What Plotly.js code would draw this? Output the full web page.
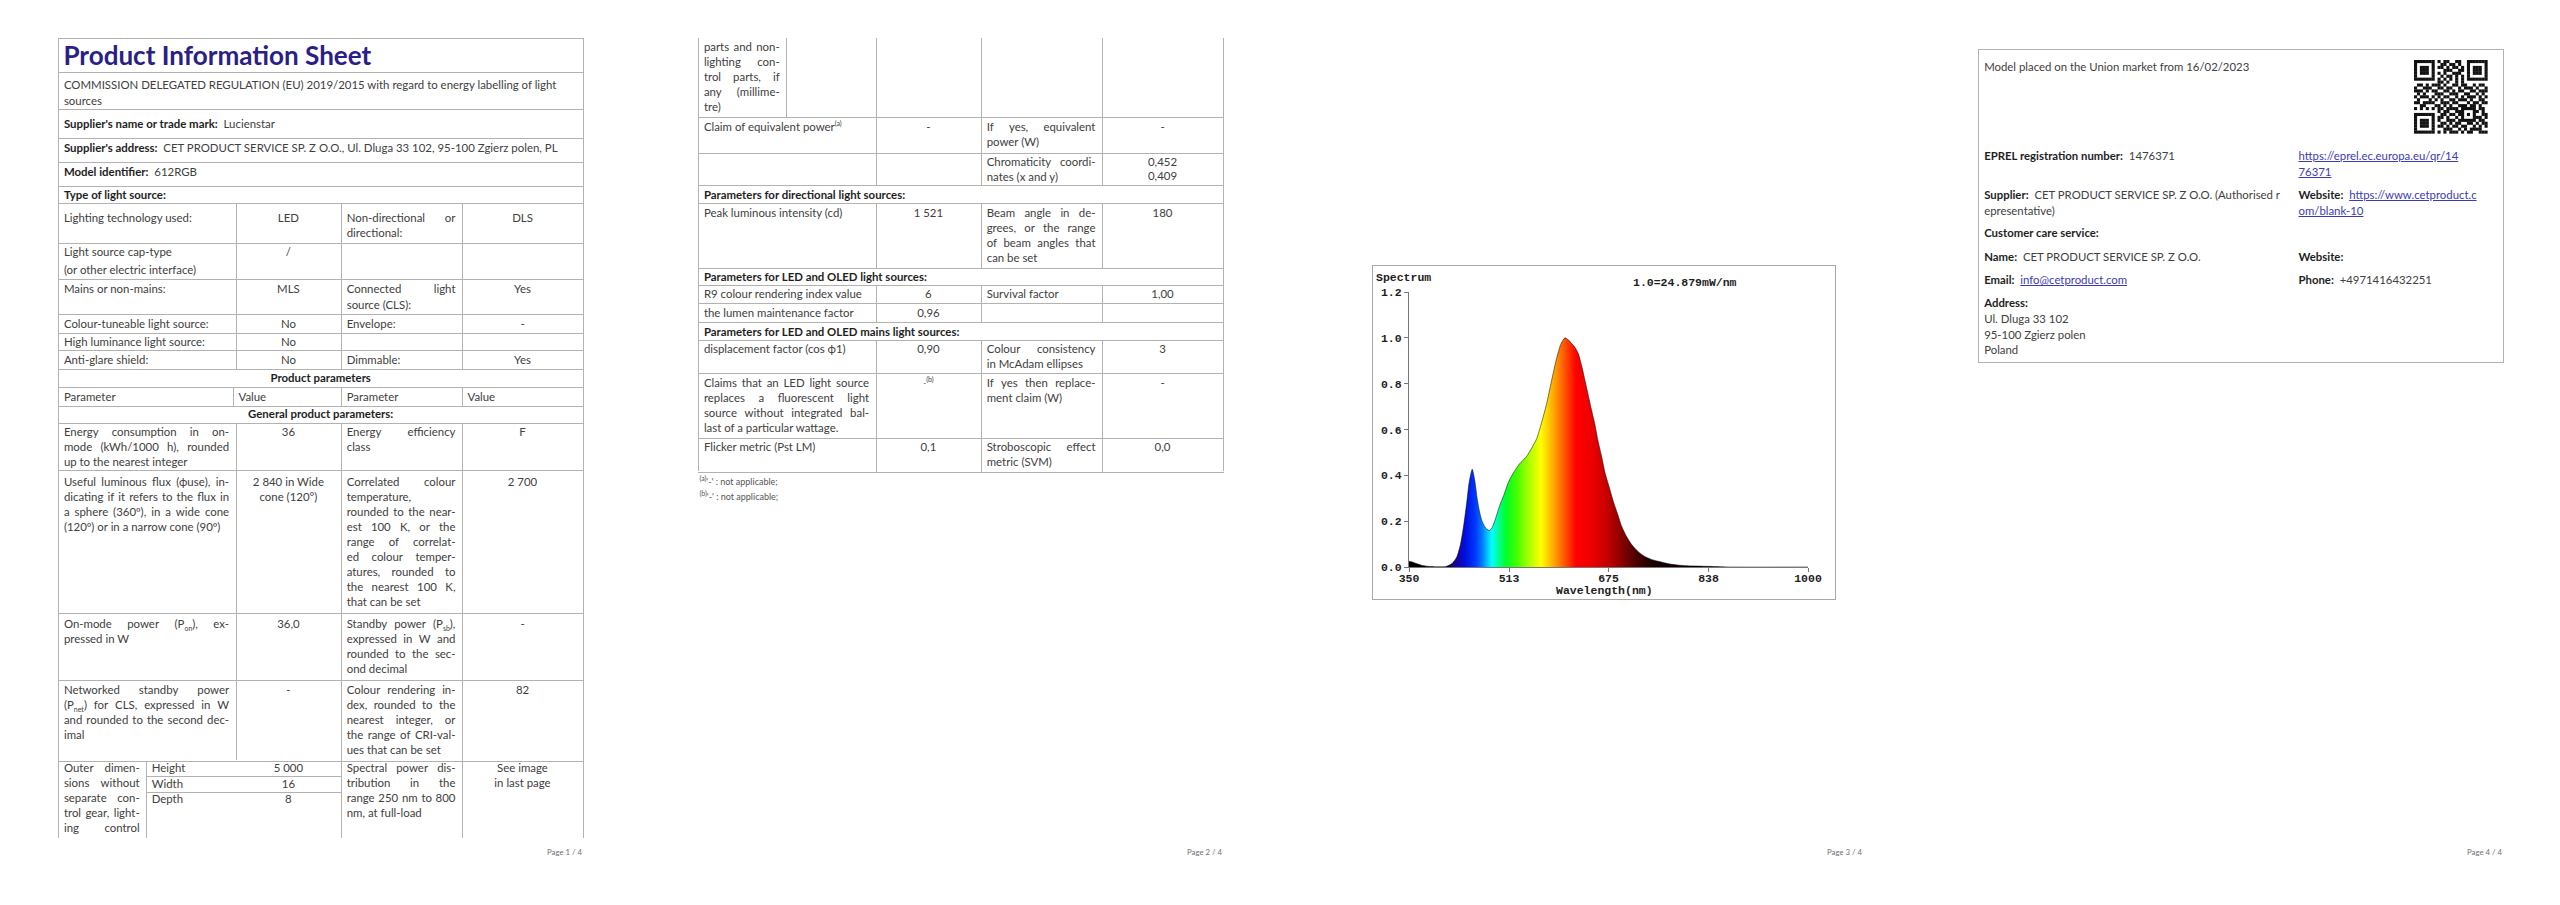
<!DOCTYPE html>
<html><head><meta charset="utf-8">
<script src="https://cdn.plot.ly/plotly-3.0.1.min.js"></script>
<style>
html,body{margin:0;padding:0;background:#fff;}
#doc{position:relative;width:2560px;height:905px;overflow:hidden;font-family:Lato,sans-serif;font-size:11px;color:#404040;}
.t{position:absolute;white-space:nowrap;line-height:14px;height:14px;}
.t b{color:#1e1e1e;font-weight:700;}
.c{text-align:center;}
.h{position:absolute;height:1px;background:#b2b2b2;}
.v{position:absolute;width:1px;background:#b2b2b2;}
sub,sup{font-size:7px;line-height:0;}
a{color:#3b3bb5;text-decoration:underline;}
.ft{position:absolute;color:#707070;white-space:nowrap;line-height:10px;}
.title{position:absolute;font-weight:700;color:#2a1f86;white-space:nowrap;line-height:30px;}
.note{position:absolute;font-size:9px;color:#555;white-space:nowrap;line-height:10px;}
#spec{position:absolute;left:1372px;top:265px;width:464px;height:335px;border:1px solid #a8a8a8;box-sizing:border-box;}
#qr{position:absolute;}
</style>
</head><body>
<div id="doc">
  <div id="spec"><div id="chart"></div></div>
</div>
<script>
// ---------------- spectrum data ----------------
const wavelength = [350,355,362,370,380,395,410,420,428,434,439,444,448,453,457,461,465,469,475,481,486,492,498,504,512,520,530,541,550,558,566,574,582,590,597,604,610,615,620,626,632,637,642,647,653,658,664,669,676,683,690,696,704,713,723,734,745,756,775,794,820,848,872,1000];
const intensity = [0.025,0.022,0.015,0.008,0.003,0.001,0.002,0.015,0.045,0.10,0.18,0.28,0.37,0.427,0.38,0.30,0.24,0.20,0.17,0.159,0.175,0.22,0.27,0.31,0.37,0.41,0.45,0.48,0.52,0.56,0.63,0.71,0.81,0.905,0.97,1.0,0.99,0.975,0.96,0.93,0.87,0.81,0.75,0.69,0.62,0.55,0.48,0.415,0.35,0.285,0.23,0.18,0.135,0.097,0.068,0.046,0.033,0.025,0.013,0.007,0.004,0.002,0.0,0.0];
const xTickVals = [350,513,675,838,1000];
const yTickVals = [0,0.2,0.4,0.6,0.8,1.0,1.2];
const gradNm = [350,405,425,442,458,470,478,485,495,508,525,545,565,578,592,608,622,650,675,700,725,750,1000];
const gradColor = ['#000000','#050008','#1a0090','#0010e0','#0038ff','#0080ff','#00c8ff','#00ffff','#00ff9a','#00ff28','#40ff00','#a8ff00','#ffff00','#ffc800','#ff8a00','#ff4000','#ff0000','#ea0000','#c00000','#800000','#400000','#150000','#000000'];
const chartTitle = 'Spectrum';
const chartScale = '1.0=24.879mW/nm';
const xTitle = 'Wavelength(nm)';

const monoFont = {family:'"Liberation Mono", "DejaVu Sans Mono", monospace', size:11.5, color:'#1e1e1e', weight:'bold'};
const colorscale = gradNm.map((n,i)=>[(n-350)/650, gradColor[i]]);

Plotly.newPlot('chart', [{
  type:'scatter', mode:'lines', x:wavelength, y:intensity,
  line:{color:'rgba(0,0,0,0.85)', width:0.6, shape:'spline', smoothing:0.6},
  fill:'tozeroy',
  fillgradient:{type:'horizontal', start:350, stop:1000, colorscale:colorscale},
  hoverinfo:'skip'
}], {
  width:462, height:333,
  margin:{l:36, r:27, t:26, b:32},
  paper_bgcolor:'#ffffff', plot_bgcolor:'#ffffff', showlegend:false,
  xaxis:{range:[350,1000], tickvals:xTickVals, ticktext:xTickVals.map(String), ticks:'outside', ticklen:4, tickcolor:'#777',
         ticklabelstandoff:-4,
         showline:true, linecolor:'#777', linewidth:1, showgrid:false, zeroline:false, tickfont:monoFont, fixedrange:true},
  yaxis:{range:[0,1.2], tickvals:yTickVals, ticktext:yTickVals.map(v=>v.toFixed(1)), ticks:'outside', ticklen:4, tickcolor:'#777',
         showline:true, linecolor:'#777', linewidth:1, showgrid:false, zeroline:false, tickfont:monoFont, fixedrange:true},
  annotations:[
    {text:chartTitle, xref:'paper', yref:'paper', x:-0.088, y:1.051, xanchor:'left', yanchor:'middle', showarrow:false, font:monoFont},
    {text:chartScale, xref:'paper', yref:'paper', x:0.692, y:1.036, xanchor:'center', yanchor:'middle', showarrow:false, font:monoFont},
    {text:xTitle, xref:'paper', yref:'paper', x:0.491, y:-0.087, xanchor:'center', yanchor:'middle', showarrow:false, font:monoFont}
  ]
}, {staticPlot:true, displayModeBar:false});

// ---------------- document pages ----------------
const doc = document.getElementById('doc');
const mctx = document.createElement('canvas').getContext('2d');
function fitSize(text, weight, target){ mctx.font = weight+' 100px Lato'; return 100*target/mctx.measureText(text).width; }
const bodySize = fitSize('COMMISSION DELEGATED REGULATION (EU) 2019/2015 with regard to energy labelling of light','400',494);
const p4Size = fitSize('Model placed on the Union market from 16/02/2023','400',265);
const titleSize = fitSize('Product Information Sheet','700',308);
const footSize = fitSize('Page 1 / 4','400',35);
doc.style.fontSize = bodySize.toFixed(2)+'px';
let curSize = null;

function el(cls, st, html){ const d=document.createElement('div'); d.className=cls; Object.assign(d.style, st); if(html!=null) d.innerHTML=html; doc.appendChild(d); return d; }
function H(off,x0,x1,y){ el('h',{left:Math.round(off+x0)+'px', top:Math.round(y)+'px', width:Math.round(x1-x0)+'px'}); }
function V(off,x,y0,y1){ el('v',{left:Math.round(off+x)+'px', top:Math.round(y0)+'px', height:Math.round(y1-y0)+'px'}); }
const PL=5.5, PR=6.5, LH=14;
function T(off,x0,x1,y,html,al){
  al = al||'l';
  const st = {top:(y-LH/2)+'px'};
  if(curSize) st.fontSize = curSize.toFixed(2)+'px';
  if(al==='c'){ st.left=(off+x0)+'px'; st.width=(x1-x0)+'px'; el('t c',st,html); }
  else if(al==='j'){ st.left=(off+x0+PL)+'px'; st.width=(x1-x0-PL-PR)+'px'; st.display='flex'; st.justifyContent='space-between';
    el('t',st, html.split(' ').map(w=>'<span>'+w+'</span>').join('')); }
  else { st.left=(off+x0+PL)+'px'; el('t',st,html); }
}
function lines(off,x0,x1,y,arr,step){ arr.forEach((l,i)=>{ const j=l.endsWith('|'); T(off,x0,x1,y+i*(step||15), j?l.slice(0,-1):l, j?'j':'l'); }); }
function footer(off,txt){ el('ft',{left:(off+520)+'px', top:'847px', width:'62px', textAlign:'right', fontSize:footSize.toFixed(2)+'px'},txt); }

// column positions (page relative)
const A=58.4, S=146.2, B=235.6, Bh=233, C=341.2, D=462, E=583;

// ---- Page 1 ----
let o=0;
[38.3,71.7,109,138.3,162.3,185.7,202.7,242.7,278.8,314,333,350.2,368.5,387,405.5,423.3,470,613.3,680,760.7].forEach(y=>H(o,A,E+1,y));
H(o,S,C,776); H(o,S,C,791.7);
V(o,A,38.3,838); V(o,E,38.3,838);
V(o,B,202.7,368.5); V(o,B,423.3,760.7); V(o,Bh,387,405.5);
[C,D].forEach(x=>{ V(o,x,202.7,368.5); V(o,x,387,405.5); V(o,x,423.3,838); });
V(o,S,760.7,838);

el('title',{left:(o+A+5)+'px', top:(55-15)+'px', fontSize:titleSize.toFixed(2)+'px'},'Product Information Sheet');
T(o,A,E,85,'COMMISSION DELEGATED REGULATION (EU) 2019/2015 with regard to energy labelling of light');
T(o,A,E,101,'sources');
T(o,A,E,124,"<b>Supplier's name or trade mark:</b>&nbsp; Lucienstar");
T(o,A,E,148,"<b>Supplier's address:</b>&nbsp; CET PRODUCT SERVICE SP. Z O.O., Ul. Dluga 33 102, 95-100 Zgierz polen, PL");
T(o,A,E,171.5,'<b>Model identifier:</b>&nbsp; 612RGB');
T(o,A,E,194.5,'<b>Type of light source:</b>');
T(o,A,B,218,'Lighting technology used:'); T(o,B,C,218,'LED','c'); lines(o,C,D,218,['Non-directional or|','directional:'],14.5); T(o,D,E,218,'DLS','c');
T(o,A,B,252,'Light source cap-type'); T(o,A,B,269.5,'(or other electric interface)'); T(o,B,C,252,'/','c');
T(o,A,B,289.3,'Mains or non-mains:'); T(o,B,C,289.3,'MLS','c'); lines(o,C,D,289.3,['Connected light|','source (CLS):'],15.5); T(o,D,E,289.3,'Yes','c');
T(o,A,B,323.8,'Colour-tuneable light source:'); T(o,B,C,323.8,'No','c'); T(o,C,D,323.8,'Envelope:'); T(o,D,E,323.8,'-','c');
T(o,A,B,341.8,'High luminance light source:'); T(o,B,C,341.8,'No','c');
T(o,A,B,360,'Anti-glare shield:'); T(o,B,C,360,'No','c'); T(o,C,D,360,'Dimmable:'); T(o,D,E,360,'Yes','c');
T(o,A,E,378.2,'<b>Product parameters</b>','c');
T(o,A,Bh,396.5,'Parameter'); T(o,Bh,C,396.5,'Value'); T(o,C,D,396.5,'Parameter'); T(o,D,E,396.5,'Value');
T(o,A,E,414.2,'<b>General product parameters:</b>','c');
lines(o,A,B,432.3,['Energy consumption in on-|','mode (kWh/1000 h), rounded|','up to the nearest integer']);
T(o,B,C,432.3,'36','c'); lines(o,C,D,432.3,['Energy efficiency|','class']); T(o,D,E,432.3,'F','c');
lines(o,A,B,481.7,['Useful luminous flux (ϕuse), in-|','dicating if it refers to the flux in|','a sphere (360º), in a wide cone|','(120º) or in a narrow cone (90º)']);
T(o,B,C,481.7,'2 840 in Wide','c'); T(o,B,C,496.7,'cone (120°)','c');
lines(o,C,D,481.7,['Correlated colour|','temperature,','rounded to the near-|','est 100 K, or the|','range of correlat-|','ed colour temper-|','atures, rounded to|','the nearest 100 K,|','that can be set']);
T(o,D,E,481.7,'2 700','c');
lines(o,A,B,624.3,['On-mode power (P<sub>on</sub>), ex-|','pressed in W']);
T(o,B,C,624.3,'36,0','c');
lines(o,C,D,624.3,['Standby power (P<sub>sb</sub>),|','expressed in W and|','rounded to the sec-|','ond decimal']);
T(o,D,E,624.3,'-','c');
lines(o,A,B,690,['Networked standby power|','(P<sub>net</sub>) for CLS, expressed in W|','and rounded to the second dec-|','imal']);
T(o,B,C,690,'-','c');
lines(o,C,D,690,['Colour rendering in-|','dex, rounded to the|','nearest integer, or|','the range of CRI-val-|','ues that can be set']);
T(o,D,E,690,'82','c');
lines(o,A,S,768.3,['Outer dimen-|','sions without|','separate con-|','trol gear, light-|','ing control|']);
T(o,S,C,768.3,'Height'); T(o,B,C,768.3,'5 000','c');
T(o,S,C,783.8,'Width'); T(o,B,C,783.8,'16','c');
T(o,S,C,798.8,'Depth'); T(o,B,C,798.8,'8','c');
lines(o,C,D,768.3,['Spectral power dis-|','tribution in the|','range 250 nm to 800|','nm, at full-load']);
T(o,D,E,768.3,'See image','c'); T(o,D,E,783.3,'in last page','c');
footer(o,'Page 1 / 4');

// ---- Page 2 ----
o=640;
[117.3,153.3,185,203.3,268.3,285,303.3,321.7,340,373.3,438.3,471.7].forEach(y=>H(o,A,E+1,y));
V(o,A,38.3,471.7); V(o,E,38.3,471.7); V(o,S,38.3,117.3);
[B,C,D].forEach(x=>{ V(o,x,38.3,185); V(o,x,203.3,268.3); V(o,x,285,321.7); V(o,x,340,471.7); });
lines(o,A,S,46.5,['parts and non-|','lighting con-|','trol parts, if|','any (millime-|','tre)']);
T(o,A,B,126.7,'Claim of equivalent power<sup>(a)</sup>'); T(o,B,C,126.7,'-','c');
lines(o,C,D,126.7,['If yes, equivalent|','power (W)']); T(o,D,E,126.7,'-','c');
lines(o,C,D,161.7,['Chromaticity coordi-|','nates (x and y)']);
T(o,D,E,161.7,'0,452','c'); T(o,D,E,175.7,'0,409','c');
T(o,A,E,195,'<b>Parameters for directional light sources:</b>');
T(o,A,B,212.7,'Peak luminous intensity (cd)'); T(o,B,C,212.7,'1 521','c');
lines(o,C,D,212.7,['Beam angle in de-|','grees, or the range|','of beam angles that|','can be set']);
T(o,D,E,212.7,'180','c');
T(o,A,E,276.7,'<b>Parameters for LED and OLED light sources:</b>');
T(o,A,B,294.3,'R9 colour rendering index value'); T(o,B,C,294.3,'6','c'); T(o,C,D,294.3,'Survival factor'); T(o,D,E,294.3,'1,00','c');
T(o,A,B,313,'the lumen maintenance factor'); T(o,B,C,313,'0,96','c');
T(o,A,E,331.7,'<b>Parameters for LED and OLED mains light sources:</b>');
T(o,A,B,349.3,'displacement factor (cos ϕ1)'); T(o,B,C,349.3,'0,90','c');
lines(o,C,D,349.3,['Colour consistency|','in McAdam ellipses']); T(o,D,E,349.3,'3','c');
lines(o,A,B,383.3,['Claims that an LED light source|','replaces a fluorescent light|','source without integrated bal-|','last of a particular wattage.']);
T(o,B,C,382,'<span style="font-size:8px">-<sup>(b)</sup></span>','c');
lines(o,C,D,383.3,['If yes then replace-|','ment claim (W)']); T(o,D,E,383.3,'-','c');
T(o,A,B,446.7,'Flicker metric (Pst LM)'); T(o,B,C,446.7,'0,1','c');
lines(o,C,D,446.7,['Stroboscopic effect|','metric (SVM)']); T(o,D,E,446.7,'0,0','c');
el('note',{left:(o+A+1)+'px', top:'477px'},'<sup>(a)</sup>\'-\' : not applicable;');
el('note',{left:(o+A+1)+'px', top:'492px'},'<sup>(b)</sup>\'-\' : not applicable;');
footer(o,'Page 2 / 4');

// ---- Page 3 ----
footer(1280,'Page 3 / 4');

// ---- Page 4 ----
o=1920;
curSize = p4Size;
const A4=57.7, R4=378.5;
H(o,A4,E+1,49.3); H(o,A4,E+1,362.3); V(o,A4,49.3,362.3); V(o,E,49.3,362.3);
T(o,A4+1,E,66.7,'Model placed on the Union market from 16/02/2023');
T(o,A4+1,E,156,'<b>EPREL registration number:</b>&nbsp; 1476371');
T(o,R4-5.5,E,156,'<a>https://eprel.ec.europa.eu/qr/14</a>');
T(o,R4-5.5,E,171.7,'<a>76371</a>');
T(o,A4+1,E,195,'<b>Supplier:</b>&nbsp; CET PRODUCT SERVICE SP. Z O.O. (Authorised r');
T(o,A4+1,E,210.7,'epresentative)');
T(o,R4-5.5,E,195,'<b>Website:</b>&nbsp; <a>https://www.cetproduct.c</a>');
T(o,R4-5.5,E,210.7,'<a>om/blank-10</a>');
T(o,A4+1,E,233.3,'<b>Customer care service:</b>');
T(o,A4+1,E,257.3,'<b>Name:</b>&nbsp; CET PRODUCT SERVICE SP. Z O.O.');
T(o,R4-5.5,E,257.3,'<b>Website:</b>');
T(o,A4+1,E,280,'<b>Email:</b>&nbsp; <a>info@cetproduct.com</a>');
T(o,R4-5.5,E,280,'<b>Phone:</b>&nbsp; +4971416432251');
T(o,A4+1,E,303.3,'<b>Address:</b>');
T(o,A4+1,E,319,'Ul. Dluga 33 102');
T(o,A4+1,E,334.5,'95-100 Zgierz polen');
T(o,A4+1,E,350,'Poland');
curSize = null;
footer(o,'Page 4 / 4');

// QR-like code (decorative)
const qrRows = [
'1111111010110011001111111','1000001001101101001000001','1011101011010110101011101','1011101000111001101011101',
'1011101010100111001011101','1000001001011010101000001','1111111010101010101111111','0000000011010010100000000',
'0110101110100110110010110','1001110011011001011101001','1110101100110101100110111','0101000111001110011001010',
'1011101010110010101110101','0100010101001101110100110','1101111001110110001011011','0011000110101001110110100',
'1010101011011110111110110','0000000010110011100011010','1111111001101101101010011','1000001011010010100011101',
'1011101010011101111110110','1011101001101011001101011','1011101011010110110010101','1000001000111001010111100',
'1111111010101110101100111'];
const qs = 73.5, cv = document.createElement('canvas');
cv.id='qr'; cv.width=74; cv.height=74; cv.style.left=(1920+494)+'px'; cv.style.top='60px';
doc.appendChild(cv);
const ctx = cv.getContext('2d'); const m = qs/qrRows.length; ctx.fillStyle='#111';
qrRows.forEach((r,i)=>{ for(let j=0;j<r.length;j++){ if(r[j]==='1') ctx.fillRect(j*m, i*m, m+0.15, m+0.15); } });
</script>
</body></html>
